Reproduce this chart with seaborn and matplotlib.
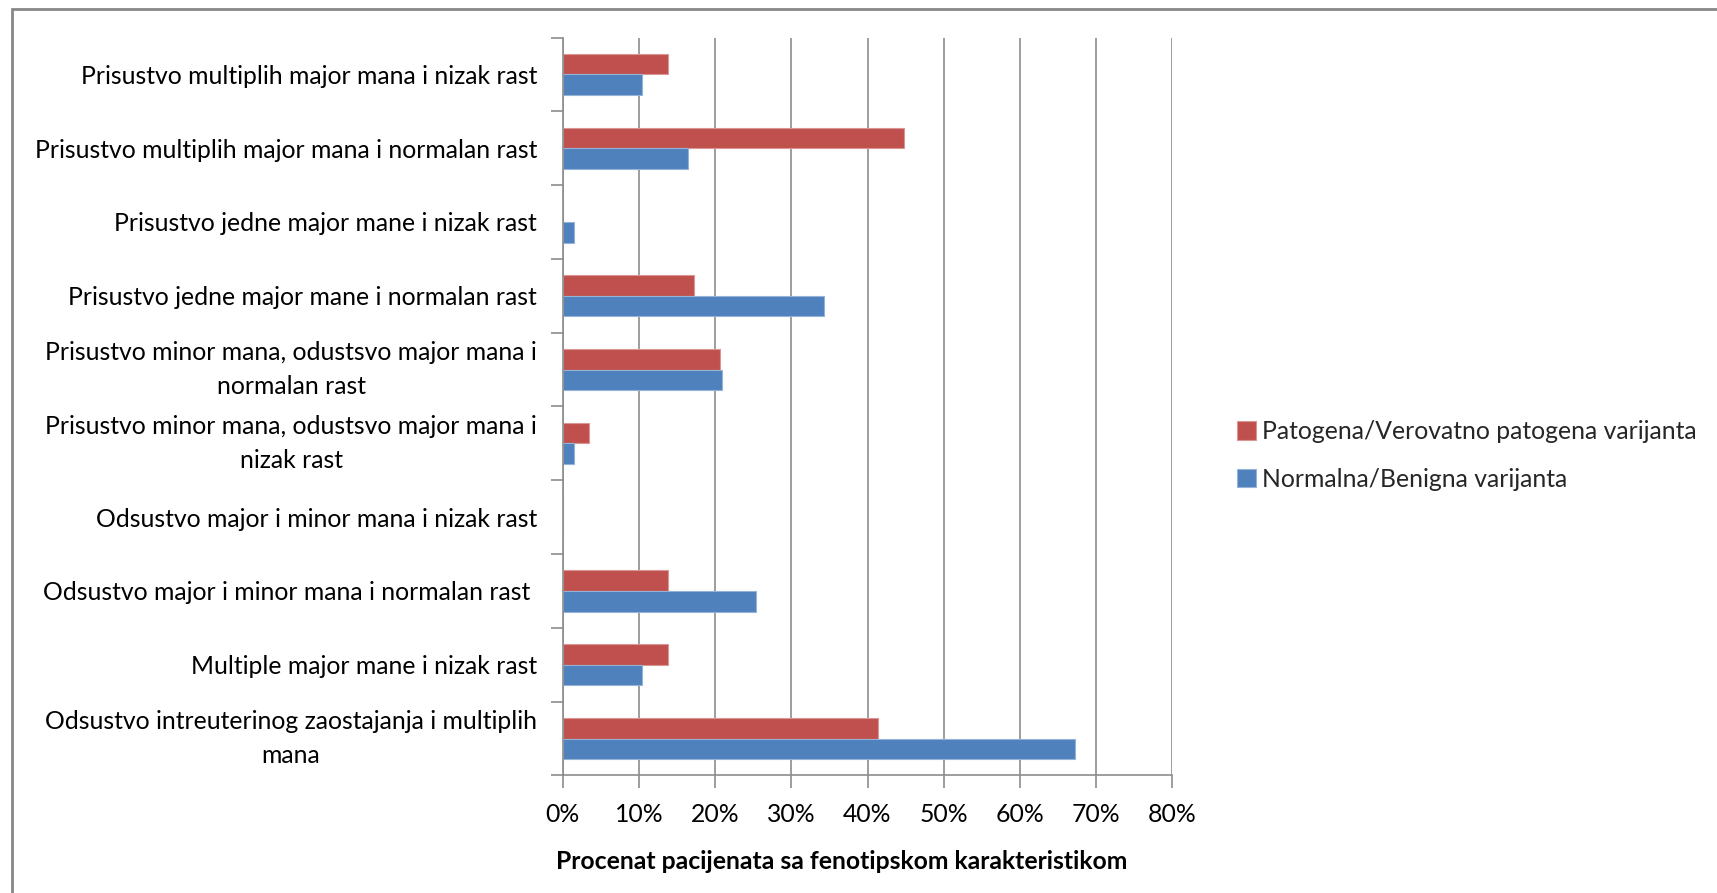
import matplotlib
matplotlib.use("Agg")
import matplotlib.pyplot as plt
import matplotlib.patches as mpatches
from matplotlib.ticker import FixedLocator, PercentFormatter
import pandas as pd
import seaborn as sns

categories = [
    "Prisustvo multiplih major mana i nizak rast",
    "Prisustvo multiplih major mana i normalan rast",
    "Prisustvo jedne major mane i nizak rast",
    "Prisustvo jedne major mane i normalan rast",
    "Prisustvo minor mana, odustsvo major mana i\nnormalan rast",
    "Prisustvo minor mana, odustsvo major mana i\nnizak rast",
    "Odsustvo major i minor mana i nizak rast",
    "Odsustvo major i minor mana i normalan rast ",
    "Multiple major mane i nizak rast",
    "Odsustvo intreuterinog zaostajanja i multiplih\nmana",
]
series_names = ["Patogena/Verovatno patogena varijanta", "Normalna/Benigna varijanta"]
patogena = [13.8, 44.8, 0.0, 17.2, 20.7, 3.4, 0.0, 13.8, 13.8, 41.4]
normalna = [10.4, 16.4, 1.5, 34.3, 20.9, 1.5, 0.0, 25.4, 10.4, 67.2]
x_ticks = [0, 10, 20, 30, 40, 50, 60, 70, 80]
x_label = "Procenat pacijenata sa fenotipskom karakteristikom"

colors = ["#C0504D", "#4F81BD"]
edge_colors = ["#D99694", "#95B3D7"]
FS = 17.8

df = pd.DataFrame({
    "kategorija": categories * 2,
    "serija": [series_names[0]] * len(categories) + [series_names[1]] * len(categories),
    "procenat": patogena + normalna,
})

sns.set_theme(style="white")
plt.rcParams["font.family"] = ["Lato", "DejaVu Sans"]

fig = plt.figure(figsize=(17.17, 8.93), dpi=100)
ax = fig.add_axes([0.3277, 0.1316, 0.3551, 0.8264])

sns.barplot(
    data=df, x="procenat", y="kategorija", hue="serija",
    order=categories, hue_order=series_names, palette=colors,
    saturation=1, orient="h", width=0.56, ax=ax, legend=True,
)

for cont, ec in zip(ax.containers, edge_colors):
    for bar in cont:
        bar.set_edgecolor(ec)
        bar.set_linewidth(0.8)

ax.set_xlim(0, 80)
ax.set_ylim(len(categories) - 0.5, -0.5)
ax.xaxis.set_major_locator(FixedLocator(x_ticks))
ax.xaxis.set_major_formatter(PercentFormatter(decimals=0))

grid_c = "#8C8C8C"
ax.grid(axis="x", color=grid_c, linewidth=1.2)
ax.set_axisbelow(True)
for s in ["top", "right"]:
    ax.spines[s].set_visible(False)
for s in ["left", "bottom"]:
    ax.spines[s].set_color(grid_c)
    ax.spines[s].set_linewidth(1.2)

# category separators as outward minor ticks on the y axis
ax.yaxis.set_minor_locator(FixedLocator([i - 0.5 for i in range(len(categories) + 1)]))
ax.tick_params(axis="y", which="major", length=0, pad=18.5, labelsize=FS, colors="black")
ax.tick_params(axis="y", which="minor", left=True, length=9, width=1.2, color=grid_c)
ax.tick_params(axis="x", which="major", bottom=True, length=9, width=1.2, color=grid_c,
               pad=11, labelsize=FS, labelcolor="black")
for lbl in ax.get_yticklabels():
    lbl.set_multialignment("center")
    lbl.set_linespacing(1.55)
    if "\n" in lbl.get_text():
        lbl.set_verticalalignment("center")

ax.set_ylabel("")
ax.set_xlabel(x_label, fontsize=FS, fontweight="bold", labelpad=17, color="black")
ax.xaxis.label.set_x(0.457)

handles = [mpatches.Patch(facecolor=c, edgecolor=e, linewidth=0.8) for c, e in zip(colors, edge_colors)]
ax.legend(handles, series_names, loc="center left", bbox_to_anchor=(0.7076, 0.490),
          bbox_transform=fig.transFigure, frameon=False, fontsize=FS,
          handlelength=0.75, handleheight=0.75, handletextpad=0.25, labelspacing=1.0)

# outer chart frame
fig.patches.append(mpatches.Rectangle((12 / 1717, -0.05), 1.1, 1.05 - 9 / 893,
                                      transform=fig.transFigure, fill=False,
                                      edgecolor="#878787", linewidth=2, clip_on=False))

fig.savefig("out.png", dpi=100, facecolor="white")
